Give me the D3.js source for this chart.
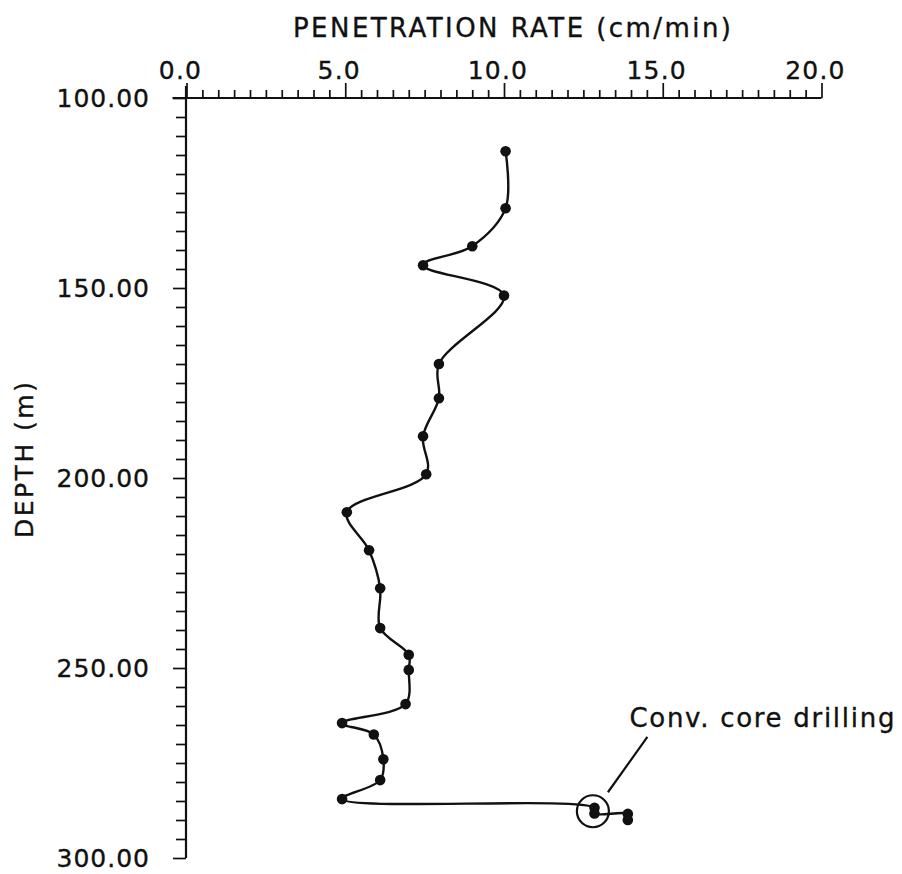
<!DOCTYPE html>
<html>
<head>
<meta charset="utf-8">
<script src="https://cdn.jsdelivr.net/npm/d3@7"></script>
<style>
  html, body { margin: 0; padding: 0; background: #fff; }
  svg { display: block; }
  text { font-family: "DejaVu Sans", "Liberation Sans", sans-serif; fill: #111; stroke: #111; stroke-width: 0.35; }
</style>
</head>
<body>
<svg id="chart" width="902" height="874"></svg>
<script>
// ---- data ----
const depth = [114, 129, 139, 144, 152, 170, 179, 189, 199, 209, 219, 229, 239.5, 246.5, 250.5, 259.5, 264.5, 267.5, 274, 279.5, 284.5, 286.8, 288.3, 288.4, 290.0];
const rate  = [10.05, 10.05, 9.0, 7.45, 10.0, 7.95, 7.95, 7.45, 7.55, 5.05, 5.75, 6.1, 6.1, 7.0, 7.0, 6.9, 4.9, 5.9, 6.2, 6.1, 4.9, 12.85, 12.85, 13.9, 13.9];
const xTickValues = [0, 5, 10, 15, 20];
const xTickLabels = ["0.0", "5.0", "10.0", "15.0", "20.0"];
const yTickValues = [100, 150, 200, 250, 300];
const yTickLabels = ["100.00", "150.00", "200.00", "250.00", "300.00"];
const xTitle = "PENETRATION  RATE  (cm/min)";
const yTitle = "DEPTH  (m)";
const noteText = "Conv.  core  drilling";
const noteCenter = [12.8, 287.7];   // rate, depth of circled points
const noteLabel = [13.95, 265.5];   // rate, depth of the label's start

// ---- layout ----
const svg = d3.select("#chart");
const x = d3.scaleLinear().domain([0, 20]).range([186.5, 821.5]);
const y = d3.scaleLinear().domain([100, 300]).range([98, 858]);
const ink = "#111";

// X axis (top), ticks pointing up
const xMinor = d3.range(0, 20.001, 0.5);
const xAxis = d3.axisTop(x)
  .tickValues(xMinor)
  .tickSize(8)
  .tickSizeOuter(0)
  .tickFormat("");
const gx = svg.append("g").attr("transform", `translate(0,${y(100)})`).call(xAxis);
gx.select(".domain").remove();
gx.selectAll(".tick line")
  .attr("stroke", ink).attr("stroke-width", 1.7)
  .attr("y2", d => (Math.abs(d % 5) < 1e-9 ? -15 : -8));
svg.append("line")
  .attr("x1", x(0) - 14).attr("x2", x(20))
  .attr("y1", y(100)).attr("y2", y(100))
  .attr("stroke", ink).attr("stroke-width", 2.2);
svg.append("g").selectAll("text").data(xTickValues).join("text")
  .attr("x", d => x(d) - 6).attr("y", 79)
  .attr("text-anchor", "middle")
  .attr("font-size", 25)
  .attr("letter-spacing", 1.2)
  .text((d, i) => xTickLabels[i]);

// Y axis (left), ticks pointing left
const yMinor = d3.range(100, 300.001, 5);
const yAxis = d3.axisLeft(y)
  .tickValues(yMinor)
  .tickSize(10)
  .tickSizeOuter(0)
  .tickFormat("");
const gy = svg.append("g").attr("transform", `translate(${x(0) - 0.5},0)`).call(yAxis);
gy.select(".domain").remove();
gy.selectAll(".tick line")
  .attr("stroke", ink).attr("stroke-width", 1.7)
  .attr("x2", d => (Math.abs(d % 50) < 1e-9 ? -13 : -10));
svg.append("line")
  .attr("x1", x(0) - 0.5).attr("x2", x(0) - 0.5)
  .attr("y1", y(100) - 12).attr("y2", y(300))
  .attr("stroke", ink).attr("stroke-width", 2.2);
svg.append("g").selectAll("text").data(yTickValues).join("text")
  .attr("x", 150).attr("y", d => y(d))
  .attr("dy", "0.36em")
  .attr("text-anchor", "end")
  .attr("font-size", 25)
  .attr("letter-spacing", 1)
  .text((d, i) => yTickLabels[i]);

// Axis titles
svg.append("text")
  .attr("x", 512).attr("y", 37)
  .attr("text-anchor", "middle")
  .attr("font-size", 26)
  .attr("textLength", 438).attr("lengthAdjust", "spacing")
  .text(xTitle);
svg.append("text")
  .attr("transform", `translate(33,460) rotate(-90)`)
  .attr("text-anchor", "middle")
  .attr("font-size", 25)
  .attr("textLength", 156).attr("lengthAdjust", "spacing")
  .text(yTitle);

// Data line + points
const pts = depth.map((d, i) => [rate[i], d]);
const line = d3.line()
  .x(p => x(p[0])).y(p => y(p[1]))
  .curve(d3.curveCatmullRom.alpha(0.5));
svg.append("path")
  .attr("d", line(pts))
  .attr("fill", "none").attr("stroke", ink).attr("stroke-width", 2.4);
svg.append("g").selectAll("circle").data(pts).join("circle")
  .attr("cx", p => x(p[0])).attr("cy", p => y(p[1]))
  .attr("r", 5.3).attr("fill", ink);

// Annotation
const cx = x(noteCenter[0]), cy = y(noteCenter[1]);
svg.append("circle")
  .attr("cx", cx).attr("cy", cy).attr("r", 16)
  .attr("fill", "none").attr("stroke", ink).attr("stroke-width", 2.2);
svg.append("line")
  .attr("x1", cx + 15).attr("y1", cy - 19)
  .attr("x2", x(noteLabel[0]) + 18).attr("y2", y(noteLabel[1]) + 10)
  .attr("stroke", ink).attr("stroke-width", 2.2);
svg.append("text")
  .attr("x", x(noteLabel[0])).attr("y", y(noteLabel[1]))
  .attr("font-size", 26)
  .attr("textLength", 265).attr("lengthAdjust", "spacing")
  .text(noteText);
</script>
</body>
</html>
